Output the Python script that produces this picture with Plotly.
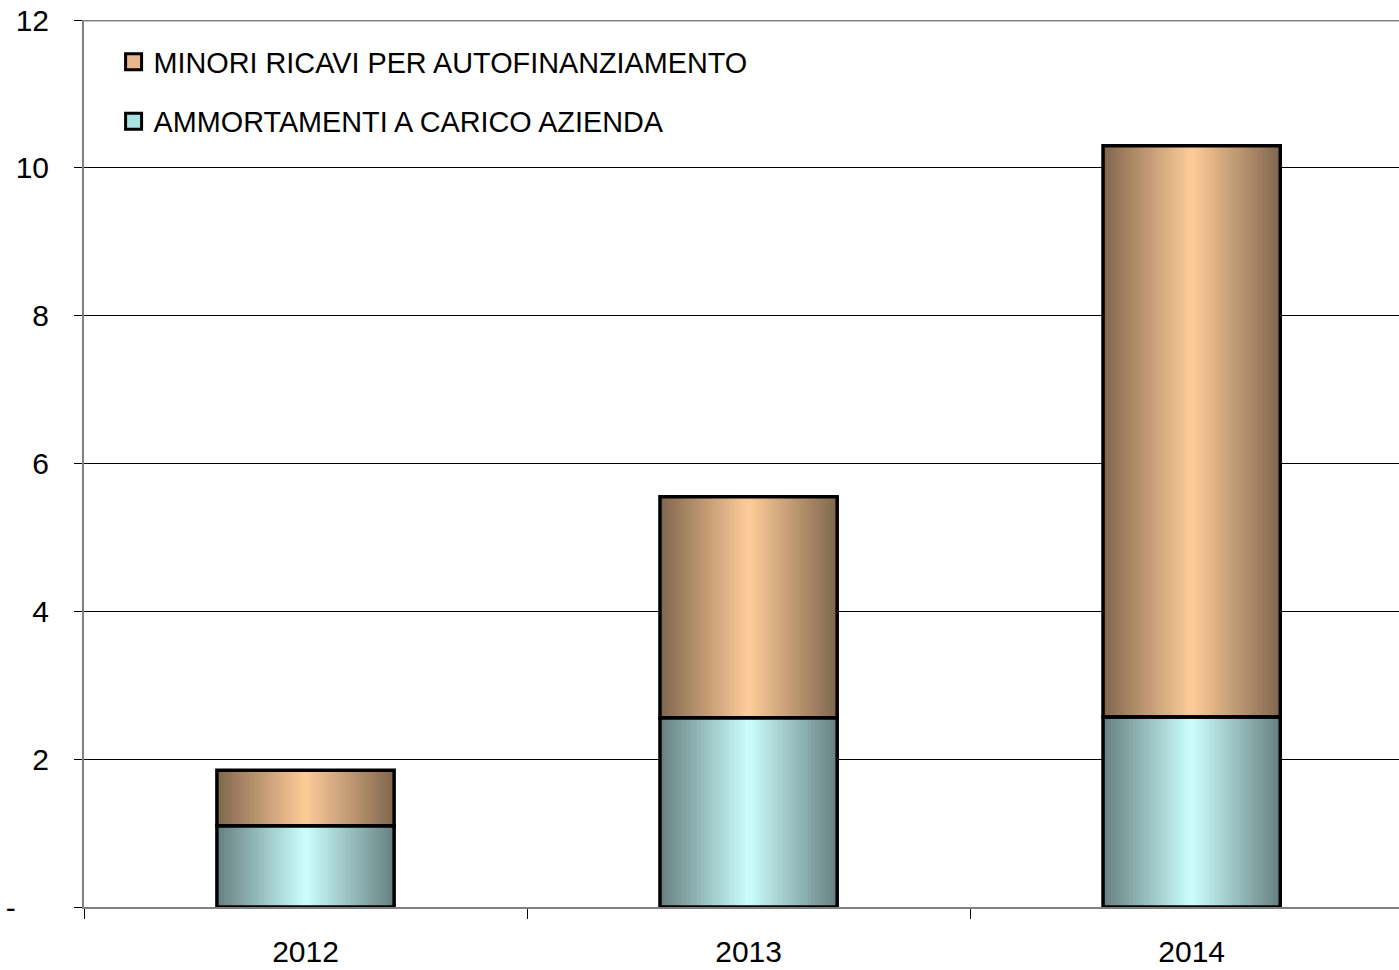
import plotly.graph_objects as go

# Data (millions)
years = ["2012", "2013", "2014"]
ammortamenti = [1.10, 2.56, 2.57]
minori_ricavi = [0.75, 2.99, 7.73]

y_ticks = [0, 2, 4, 6, 8, 10, 12]
y_tick_labels = ["-\u00a0\u00a0\u00a0\u00a0", "2", "4", "6", "8", "10", "12"]

name_ammortamenti = "AMMORTAMENTI A CARICO AZIENDA"
name_minori = "MINORI RICAVI PER AUTOFINANZIAMENTO"

BAR_WIDTH = 0.4
N_STRIPES = 48
TEAL = (204, 255, 255)
TAN = (255, 204, 153)
FONT = "Arial, 'Liberation Sans', sans-serif"


def shade(rgb, t):
    """Colour across the bar: light in the middle, half as bright at the edges."""
    f = 1 - 0.5 * abs(2 * t - 1)
    return "rgb(%d,%d,%d)" % tuple(round(c * f) for c in rgb)


fig = go.Figure()

# Horizontal gradient fill, built from narrow vertical slices of each bar
stripe_w = BAR_WIDTH / N_STRIPES
for values, base, rgb in (
    (ammortamenti, [0] * len(years), TEAL),
    (minori_ricavi, ammortamenti, TAN),
):
    for i in range(N_STRIPES):
        t = (i + 0.5) / N_STRIPES
        off = -BAR_WIDTH / 2 + i * stripe_w
        w = min(stripe_w * 1.6, BAR_WIDTH / 2 - off)
        fig.add_bar(
            x=years, y=values, base=base,
            width=w, offset=off,
            marker=dict(color=shade(rgb, t), line=dict(width=0)),
            showlegend=False, hoverinfo="skip",
        )

# Black outlines of each stacked segment
for values, base, name in (
    (ammortamenti, [0] * len(years), name_ammortamenti),
    (minori_ricavi, ammortamenti, name_minori),
):
    fig.add_bar(
        x=years, y=values, base=base, width=BAR_WIDTH, name=name,
        marker=dict(color="rgba(0,0,0,0)", line=dict(color="black", width=3.5)),
        showlegend=False,
    )

# Legend entries
for name, color, grp in (
    (name_minori, "rgb(232,184,138)", "a"),
    (name_ammortamenti, "rgb(170,225,225)", "b"),
):
    fig.add_scatter(
        x=[None], y=[None], mode="markers", name=name, legendgroup=grp,
        marker=dict(symbol="square", size=16, color=color,
                    line=dict(color="black", width=3)),
    )

# Heavier frame line along the top of the plot
fig.add_shape(type="line", xref="paper", yref="y", x0=0, x1=1, y0=12, y1=12,
              line=dict(color="#808080", width=3))

fig.update_layout(
    width=1399, height=970, autosize=False,
    margin=dict(l=84, r=0, t=20, b=63),
    barmode="overlay",
    plot_bgcolor="white", paper_bgcolor="white",
    font=dict(family=FONT, color="black"),
    legend=dict(
        x=0.0225, y=0.9814, xanchor="left", yanchor="top",
        font=dict(size=28.8, family=FONT, color="black"),
        bgcolor="rgba(0,0,0,0)", tracegroupgap=19,
    ),
    xaxis=dict(
        type="category", range=[-0.5, 2.468],
        showline=True, linecolor="#808080", linewidth=2,
        ticks="outside", tickson="boundaries", ticklen=10,
        tickcolor="black", tickwidth=1,
        tickfont=dict(size=30, family=FONT, color="black"),
        ticklabelstandoff=17,
        showgrid=False, zeroline=False,
    ),
    yaxis=dict(
        range=[0, 12], tickvals=y_ticks, ticktext=y_tick_labels,
        showgrid=True, gridcolor="black", gridwidth=1,
        showline=True, linecolor="#808080", linewidth=2,
        ticks="outside", ticklen=8, tickcolor="black", tickwidth=1,
        tickfont=dict(size=30, family=FONT, color="black"),
        ticklabelstandoff=19,
        zeroline=False,
    ),
    hovermode=False,
)

fig.write_html("out.html")
